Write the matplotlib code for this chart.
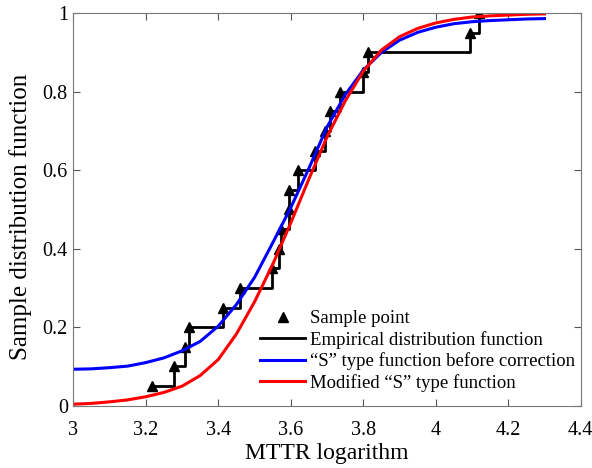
import numpy as np
import matplotlib
matplotlib.use('Agg')
import matplotlib.pyplot as plt
import matplotlib.ticker as mticker

plt.rcParams['font.family'] = ['Liberation Serif', 'DejaVu Serif']

# ── Data ───────────────────────────────────────────────────────────────────
# sample points (MTTR logarithm, empirical CDF)
sample_x = [3.217, 3.278, 3.308, 3.318, 3.412, 3.460, 3.548, 3.566, 3.572, 3.594,
            3.596, 3.621, 3.667, 3.695, 3.708, 3.736, 3.800, 3.814, 4.095, 4.120]
sample_y = [0.05, 0.10, 0.15, 0.20, 0.25, 0.30, 0.35, 0.40, 0.45, 0.50,
            0.55, 0.60, 0.65, 0.70, 0.75, 0.80, 0.85, 0.90, 0.95, 1.00]

# S-type curves sampled along x
curve_x = [3.00, 3.05, 3.10, 3.15, 3.20, 3.25, 3.30, 3.35, 3.40, 3.45,
           3.50, 3.55, 3.60, 3.65, 3.70, 3.75, 3.80, 3.85, 3.90, 3.95,
           4.00, 4.05, 4.10, 4.15, 4.20, 4.25, 4.30]
s_before = [0.093, 0.094, 0.097, 0.101, 0.110, 0.122, 0.140, 0.164, 0.203, 0.258,
            0.327, 0.415, 0.505, 0.605, 0.710, 0.792, 0.855, 0.900, 0.931, 0.951,
            0.964, 0.973, 0.978, 0.981, 0.983, 0.985, 0.986]
s_modified = [0.004, 0.006, 0.010, 0.015, 0.023, 0.034, 0.050, 0.077, 0.118, 0.183,
              0.265, 0.360, 0.466, 0.578, 0.685, 0.776, 0.852, 0.906, 0.940, 0.961,
              0.975, 0.984, 0.990, 0.993, 0.995, 0.997, 0.998]

# ── Plot ───────────────────────────────────────────────────────────────────
fig = plt.figure(figsize=(5.92, 4.68), dpi=100)
ax = fig.add_axes([0.124, 0.133, 0.857, 0.839])

ax.plot(sample_x, sample_y, linestyle='none', marker='^', color='black',
        markersize=7.5, label='Sample point')
ax.step(sample_x, sample_y, where='post', color='black', linewidth=2,
        label='Empirical distribution function')
ax.plot(curve_x, s_before, color='#0000ff', linewidth=2.2,
        label='\u201cS\u201d type function before correction')
ax.plot(curve_x, s_modified, color='#ff0000', linewidth=2.2,
        label='Modified \u201cS\u201d type function')

ax.set_xlim(3, 4.4)
ax.set_ylim(0, 1)
ax.set_xticks(np.arange(3, 4.41, 0.2))
ax.set_yticks(np.arange(0, 1.01, 0.2))
ax.xaxis.set_major_formatter(mticker.FuncFormatter(lambda v, p: f'{v:g}'))
ax.yaxis.set_major_formatter(mticker.FuncFormatter(lambda v, p: f'{v:g}'))

ax.tick_params(direction='in', top=True, right=True, length=5, width=0.8,
               color='#555555', labelsize=14.5)
ax.tick_params(axis='x', pad=11)
ax.tick_params(axis='y', pad=4)
for sp in ax.spines.values():
    sp.set_color('#777777')
    sp.set_linewidth(0.8)

ax.set_xlabel('MTTR logarithm', fontsize=17, labelpad=2)
ax.set_ylabel('Sample distribution function', fontsize=18)
ax.yaxis.set_label_coords(-0.081, 0.48)

ax.legend(loc='lower left', frameon=False, fontsize=13.5, handlelength=2.4,
          handletextpad=0.27, labelspacing=0.2, borderaxespad=0,
          bbox_to_anchor=(0.353, 0.016))

fig.savefig('out.png', dpi=100, facecolor='white')
plt.close()
